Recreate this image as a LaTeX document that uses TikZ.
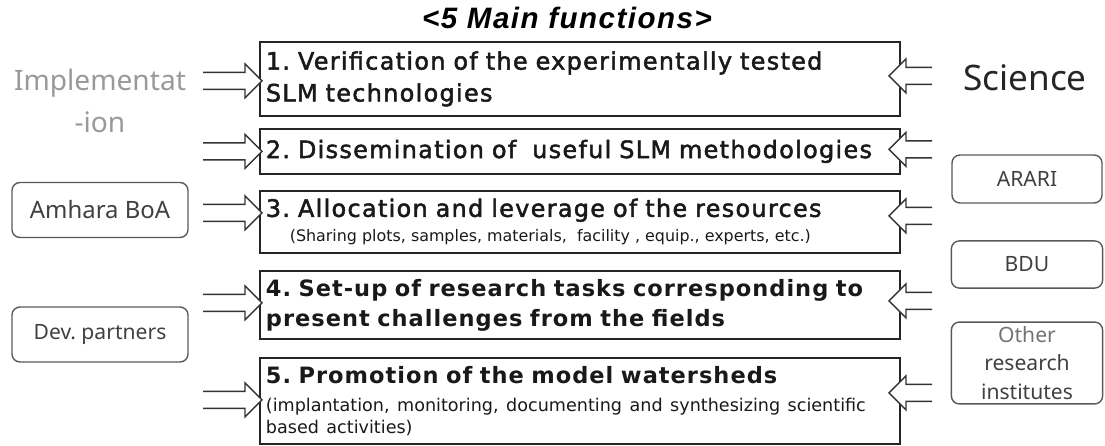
\documentclass[tikz,border=0pt]{standalone}
\usepackage{fontspec}
\setmainfont{Noto Sans}
\newfontfamily\boxfont{DejaVu Sans}[LetterSpace=4.5]
\newfontfamily\smallfont{DejaVu Sans}
\newfontfamily\medfont{DejaVu Sans}[FakeBold=2,LetterSpace=5.5]
\newfontfamily\titlefont{Liberation Sans}[LetterSpace=5]
\usetikzlibrary{positioning,calc}
\frenchspacing

\begin{document}
\begin{tikzpicture}[x=0.025cm,y=-0.025cm,
  func/.style={draw=black!85,line width=1.3pt,rectangle,anchor=north west,
    minimum width=16cm,text width=15.7cm,inner xsep=0.15cm,inner ysep=0pt,
    align=left,text=black!90},
  head/.style={font=\medfont\fontsize{17}{22.7}\selectfont},
  boldhead/.style={font=\boxfont\bfseries\fontsize{16}{21.3}\selectfont},
  actor/.style={draw=black!65,line width=1pt,rounded corners=0.2cm,
    align=center,text=black!75,font=\fontsize{15}{20}\selectfont},
  inarrow/.pic={\draw[black!80,line width=1pt,fill=white]
    (-#1,8.5) -- (-17,8.5) -- (-17,17) -- (0,0) -- (-17,-17) -- (-17,-8.5) -- (-#1,-8.5);}]
  \useasboundingbox (0,0) rectangle (1105,446);

  % title
  \node[font=\titlefont\fontsize{21}{24}\selectfont\bfseries\itshape] (title) at (567,18) {<5 Main functions>};

  % the five functions
  \node[func,head,minimum height=1.85cm] (f1) at (259,41)
    {1. Verification of the experimentally tested\\SLM technologies};
  \node[func,head,minimum height=1.125cm] (f2) at (259,128)
    {2. Dissemination of \ useful SLM methodologies};
  \node[func,head,minimum height=1.55cm] (f3) at (259,190)
    {3. Allocation and leverage of the resources\par
     {\smallfont\fontsize{11.3}{17.8}\selectfont\spaceskip=0.32em plus 0.1em\hspace*{17pt}(Sharing plots, samples, materials, \ facility , equip., experts, etc.)\par}};
  \node[func,boldhead,minimum height=1.7cm] (f4) at (259,270)
    {4. Set-up of research tasks corresponding to\\present challenges from the fields};
  \node[func,boldhead,minimum height=2.15cm] (f5) at (259,357)
    {5. Promotion of the model watersheds\par
     {\smallfont\mdseries\fontsize{12.5}{15.6}\selectfont\vspace{4pt}(implantation, monitoring, documenting and synthesizing scientific\\based activities)\par}};

  % left side
  \node[align=center,text=black!40,font=\fontsize{20}{30}\selectfont] (impl) at (100,101)
    {Implementat\\-ion};
  \node[actor,minimum width=4.4cm,minimum height=1.375cm,font=\fontsize{17}{20}\selectfont] (boa) at (100,210) {Amhara BoA};
  \node[actor,minimum width=4.4cm,minimum height=1.375cm] (dev) at (100,334.5) {Dev. partners};

  % right side
  \node[text=black!85] (sci) at (1025,78) {\fontsize{25}{30}\selectfont Science};
  \node[actor,minimum width=3.75cm,minimum height=1.2cm] (arari) at (1027,179) {ARARI};
  \node[actor,minimum width=3.78cm,minimum height=1.18cm] (bdu) at (1027,264.5) {BDU};
  \node[actor,minimum width=3.78cm,minimum height=2cm] (other) at (1027,363)
    {{\color{black!55}Other}\\research\\institutes};

  % arrows into the boxes
  \foreach \b/\dl/\dr in {f1/2/-3,f2/0/-2,f3/-9/-6,f4/-2/-4,f5/-1/-8}{
    \pic at ($(\b.west)+(3,\dl)$) {inarrow=59};
    \pic[xscale=-1] at ($(\b.east)+(-12,\dr)$) {inarrow=43};
  }
\end{tikzpicture}
\end{document}
